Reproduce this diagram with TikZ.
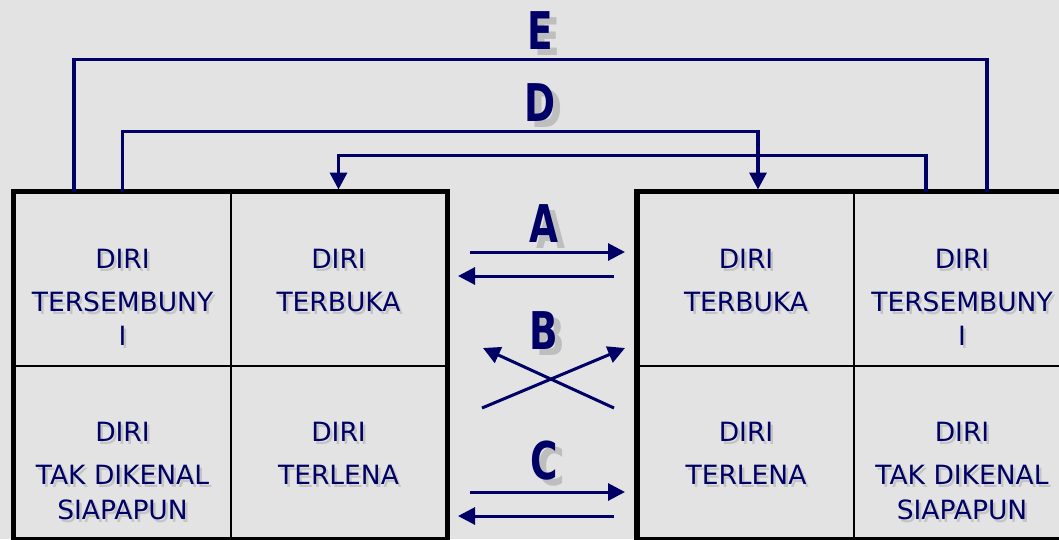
\documentclass[tikz,border=0pt]{standalone}
\usepackage{fontspec}
\setmainfont{DejaVu Sans}
\usepackage{xcolor}
\usepackage{tikz}
\usetikzlibrary{arrows.meta}
\definecolor{navy}{RGB}{0,0,102}
\definecolor{bggray}{RGB}{227,227,227}
\definecolor{shadegray}{RGB}{190,190,190}
\definecolor{softgray}{RGB}{196,196,196}

\begin{document}
\begin{tikzpicture}[x=1pt,y=-1pt,
% common options for the panes:
pane/.style = {draw, line width=2pt, minimum width=216pt, minimum height=173pt, inner sep=0},
frame/.style = {draw, line width=5.5pt},
% common options for the texts:
celltext/.style = {text=navy, align=center, anchor=north, inner sep=0,
            font=\fontsize{26.5}{43}\selectfont},
letter/.style = {text=navy, inner sep=0, font=\fontsize{52}{52}\selectfont\bfseries},
% common options for the connectors:
link/.style = {draw=navy, line width=3.5pt},
tip/.style = {-{Triangle[length=17pt,width=17pt]}}]
\path[use as bounding box, fill=bggray] (0,0) rectangle (1059,539);
\clip (0,0) rectangle (1059,539);
% left window
\node[pane] (LHid) at (122.5,279) {};
\node[pane] (LOpen) at (338.5,279) {};
\node[pane] (LUnk) at (122.5,452) {};
\node[pane] (LBlind) at (338.5,452) {};
% right window
\node[pane] (ROpen) at (746,279) {};
\node[pane] (RHid) at (962,279) {};
\node[pane] (RBlind) at (746,452) {};
\node[pane] (RUnk) at (962,452) {};
\draw[frame] (LHid.north west) rectangle (LBlind.south east);
\draw[frame] (ROpen.north west) rectangle (RUnk.south east);
% texts
\foreach \c/\t in {LHid/{DIRI\\TERSEMBUNY\\[-9pt]I}, LOpen/{DIRI\\TERBUKA},
    LUnk/{DIRI\\TAK DIKENAL\\[-8pt]SIAPAPUN}, LBlind/{DIRI\\TERLENA},
    ROpen/{DIRI\\TERBUKA}, RHid/{DIRI\\TERSEMBUNY\\[-9pt]I},
    RBlind/{DIRI\\TERLENA}, RUnk/{DIRI\\TAK DIKENAL\\[-8pt]SIAPAPUN}}{
  \node[celltext, text=softgray] at ([shift={(2.5pt,-2.5pt)}]\c.center) [yshift=30pt] {\t};
  \node[celltext] (t\c) at ([yshift=30pt]\c.center) {\t};
}
\foreach \l/\x/\y in {A/544/224, B/544/331, C/544/461, D/540/103, E/540/31}{
  \node[letter, text=shadegray] at (\x+7,\y+6) {\scalebox{0.72}[1]{\l}};
  \node[letter] (\l) at (\x,\y) {\scalebox{0.72}[1]{\l}};
}
% loops over the windows
\draw[link] ([xshift=-48.5pt]LHid.north) -- ++(0,-132) -| ([xshift=25pt]RHid.north);
\draw[link, tip] (LHid.north) -- ++(0,-60) -| ([xshift=12pt, yshift=2pt]ROpen.north);
\draw[link, tip] ([xshift=-36pt]RHid.north) -- ++(0,-36) -| ([yshift=2pt]LOpen.north);
% arrows between the windows
\coordinate (a1) at (470,252); \coordinate (a2) at (625,252);
\coordinate (a3) at (614,276); \coordinate (a4) at (458,276);
\coordinate (b1) at (482,408); \coordinate (b2) at (625,348);
\coordinate (b3) at (614,408); \coordinate (b4) at (483,348);
\coordinate (c1) at (470,492); \coordinate (c2) at (625,492);
\coordinate (c3) at (614,516); \coordinate (c4) at (458,516);
\draw[link, tip, line width=3pt] (a1) -- (a2);
\draw[link, tip, line width=3pt] (a3) -- (a4);
\draw[link, tip, line width=3pt] (b1) -- (b2);
\draw[link, tip, line width=3pt] (b3) -- (b4);
\draw[link, tip, line width=3pt] (c1) -- (c2);
\draw[link, tip, line width=3pt] (c3) -- (c4);
\end{tikzpicture}
\end{document}
